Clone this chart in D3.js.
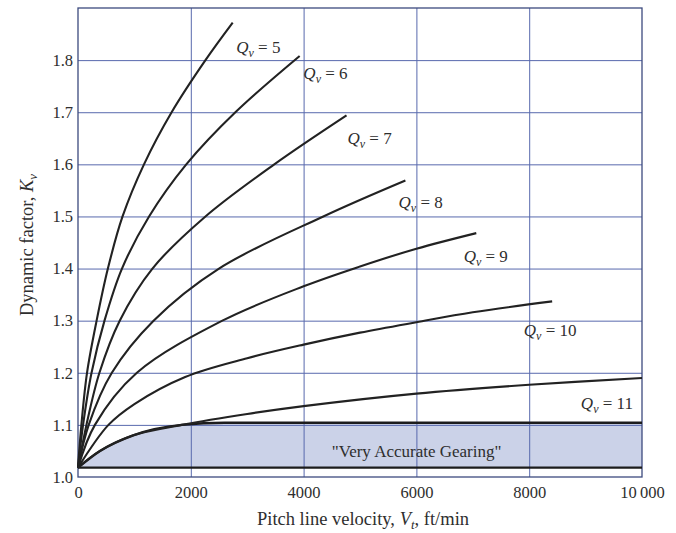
<!DOCTYPE html>
<html>
<head>
<meta charset="utf-8">
<script src="https://cdn.jsdelivr.net/npm/d3@7"></script>
<style>
  body { margin: 0; background: #fff; }
  text { font-family: "Liberation Serif", "DejaVu Serif", serif; fill: #2e2e2e; }
</style>
</head>
<body>
<svg id="chart" width="676" height="533"></svg>
<script>
// curve readings, pitch line velocity (ft/min) vs dynamic factor Kv
var qvValues = [5, 6, 7, 8, 9, 10, 11]

var v5  = [0, 60, 160, 330, 530, 790, 1170, 1660, 2260, 2743]
var k5  = [1.018, 1.1, 1.2, 1.3, 1.4, 1.5, 1.6, 1.7, 1.8, 1.872]
var v6  = [0, 90, 240, 470, 780, 1260, 1920, 2790, 3930]
var k6  = [1.018, 1.1, 1.2, 1.3, 1.4, 1.5, 1.6, 1.7, 1.808]
var v7  = [0, 150, 380, 740, 1320, 2260, 3480, 4761]
var k7  = [1.018, 1.1, 1.2, 1.3, 1.4, 1.5, 1.6, 1.694]
var v8  = [0, 190, 600, 1340, 2500, 4350, 5805]
var k8  = [1.018, 1.1, 1.2, 1.3, 1.4, 1.5, 1.569]
var v9  = [0, 300, 1044, 2560, 4000, 5000, 6000, 7062]
var k9  = [1.018, 1.1, 1.2, 1.3, 1.366, 1.404, 1.438, 1.468]
var v10 = [0, 540, 1000, 1900, 3000, 4000, 5000, 6000, 7000, 8407]
var k10 = [1.018, 1.1, 1.14, 1.192, 1.228, 1.254, 1.277, 1.297, 1.316, 1.337]
var v11 = [0, 390, 980, 1840, 3000, 4000, 6000, 8000, 10000]
var k11 = [1.018, 1.05, 1.08, 1.1, 1.121, 1.136, 1.16, 1.177, 1.19]

// "very accurate gearing" band
var bandTopV = [0, 390, 980, 1840, 2600, 10000]
var bandTopK = [1.018, 1.05, 1.08, 1.1, 1.104, 1.104]
var bandBottomV = [0, 10000]
var bandBottomK = [1.018, 1.018]

var xTicks = [0, 2000, 4000, 6000, 8000, 10000]
var yTicks = [1.0, 1.1, 1.2, 1.3, 1.4, 1.5, 1.6, 1.7, 1.8]

// where each Qv label sits (data units: left edge, baseline)
var labelV = [2806, 3996, 4778, 5684, 6838, 7904, 8916]
var labelK = [1.814, 1.764, 1.639, 1.516, 1.413, 1.27, 1.13]

var curveV = [v5, v6, v7, v8, v9, v10, v11]
var curveK = [k5, k6, k7, k8, k9, k10, k11]

var x = d3.scaleLinear().domain([0, 10000]).range([78, 642])
var y = d3.scaleLinear().domain([1.0, 1.9]).range([477, 8])

var svg = d3.select('#chart')

var zip = function(vs, ks) { return vs.map(function(v, i) { return [v, ks[i]] }) }

// shaded band
var bandTop = zip(bandTopV, bandTopK)
var bandArea = d3.area()
  .x(function(d) { return x(d[0]) })
  .y1(function(d) { return y(d[1]) })
  .y0(y(bandBottomK[0]))
  .curve(d3.curveMonotoneX)
svg.append('path')
  .attr('d', bandArea(bandTop))
  .attr('fill', '#cbd2e8')

// grid
svg.append('g')
  .attr('transform', 'translate(0,' + y(1.0) + ')')
  .call(d3.axisBottom(x).tickValues(xTicks.slice(1, -1)).tickSize(-(y(1.0) - y(1.9))).tickFormat(''))
  .call(function(g) { g.select('.domain').remove() })
  .selectAll('line').attr('stroke', '#5869ad').attr('stroke-width', 1)
svg.append('g')
  .attr('transform', 'translate(' + x(0) + ',0)')
  .call(d3.axisLeft(y).tickValues(yTicks.slice(1)).tickSize(-(x(10000) - x(0))).tickFormat(''))
  .call(function(g) { g.select('.domain').remove() })
  .selectAll('line').attr('stroke', '#5869ad').attr('stroke-width', 1)

svg.append('rect')
  .attr('x', x(0)).attr('y', y(1.9))
  .attr('width', x(10000) - x(0)).attr('height', y(1.0) - y(1.9))
  .attr('fill', 'none').attr('stroke', '#3c4a7e').attr('stroke-width', 1.3)

// tick labels
svg.append('g')
  .attr('transform', 'translate(0,' + y(1.0) + ')')
  .call(d3.axisBottom(x).tickValues(xTicks).tickSize(0).tickPadding(9)
    .tickFormat(function(d) { return d >= 10000 ? '10\u2009000' : d }))
  .call(function(g) { g.select('.domain').remove() })
  .selectAll('text').style('font-size', '16.5px').attr('fill', '#2e2e2e')
svg.append('g')
  .attr('transform', 'translate(' + x(0) + ',0)')
  .call(d3.axisLeft(y).tickValues(yTicks).tickSize(0).tickPadding(5).tickFormat(d3.format('.1f')))
  .call(function(g) { g.select('.domain').remove() })
  .selectAll('text').style('font-size', '16.5px').attr('fill', '#2e2e2e')

// band edges
var bandLine = d3.line()
  .x(function(d) { return x(d[0]) })
  .y(function(d) { return y(d[1]) })
  .curve(d3.curveMonotoneX)
svg.append('path').attr('d', bandLine(bandTop))
  .attr('fill', 'none').attr('stroke', '#1c1c1c').attr('stroke-width', 2.4)
svg.append('path').attr('d', bandLine(zip(bandBottomV, bandBottomK)))
  .attr('fill', 'none').attr('stroke', '#1c1c1c').attr('stroke-width', 2.4)

// Qv curves
var line = d3.line()
  .x(function(d) { return x(d[0]) })
  .y(function(d) { return y(d[1]) })
  .curve(d3.curveCatmullRom.alpha(0.5))
for (var i = 0; i < qvValues.length; i++) {
  svg.append('path')
    .attr('class', 'qv-' + qvValues[i])
    .attr('d', line(zip(curveV[i], curveK[i])))
    .attr('fill', 'none')
    .attr('stroke', '#222')
    .attr('stroke-width', 2.1)
}

// Qv labels
for (var j = 0; j < qvValues.length; j++) {
  var t = svg.append('text')
    .attr('x', x(labelV[j]))
    .attr('y', y(labelK[j]))
    .style('font-size', '17px')
  t.append('tspan').style('font-style', 'italic').text('Q')
  t.append('tspan').style('font-style', 'italic').style('font-size', '12px').attr('dy', 4).text('v')
  t.append('tspan').attr('dy', -4).text(' = ' + qvValues[j])
}

svg.append('text')
  .attr('x', x(6004)).attr('y', y(1.038))
  .attr('text-anchor', 'middle')
  .style('font-size', '17px')
  .text('"Very Accurate Gearing"')

// axis titles
var xt = svg.append('text')
  .attr('x', 363).attr('y', 525)
  .attr('text-anchor', 'middle')
  .style('font-size', '18.5px')
xt.append('tspan').text('Pitch line velocity, ')
xt.append('tspan').style('font-style', 'italic').text('V')
xt.append('tspan').style('font-style', 'italic').style('font-size', '13px').attr('dy', 4).text('t')
xt.append('tspan').attr('dy', -4).text(', ft/min')

var yt = svg.append('text')
  .attr('transform', 'translate(33,245) rotate(-90)')
  .attr('text-anchor', 'middle')
  .style('font-size', '18.5px')
yt.append('tspan').text('Dynamic factor, ')
yt.append('tspan').style('font-style', 'italic').text('K')
yt.append('tspan').style('font-style', 'italic').style('font-size', '13px').attr('dy', 4).text('v')
</script>
</body>
</html>
